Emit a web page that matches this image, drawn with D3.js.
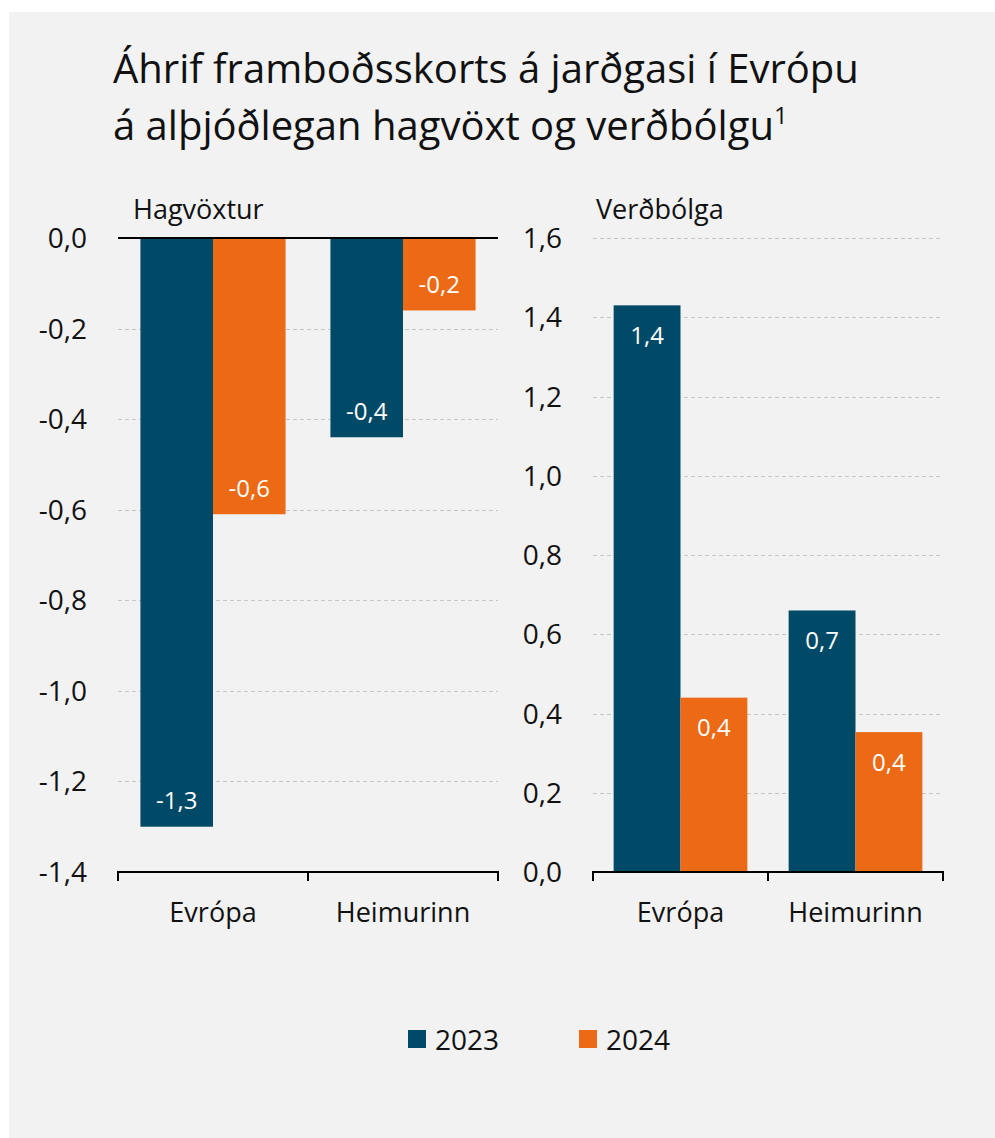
<!DOCTYPE html>
<html>
<head>
<meta charset="utf-8">
<script src="https://cdnjs.cloudflare.com/ajax/libs/d3/7.8.5/d3.min.js"></script>
<style>
  html, body { margin: 0; padding: 0; background: #ffffff; }
  svg { display: block; }
  text { font-family: "Open Sans", "Noto Sans", sans-serif; fill: #111111; }
</style>
</head>
<body>
<svg id="chart" width="995" height="1138"></svg>
<script>
// Data
const categories = ["Evrópa", "Heimurinn"];
const years = ["2023", "2024"];
const growth2023 = [-1.30, -0.44];
const growth2024 = [-0.61, -0.16];
const inflation2023 = [1.43, 0.66];
const inflation2024 = [0.44, 0.353];
const growthTicks = [0, -0.2, -0.4, -0.6, -0.8, -1.0, -1.2, -1.4];
const inflationTicks = [0, 0.2, 0.4, 0.6, 0.8, 1.0, 1.2, 1.4, 1.6];
const titleLines = ["Áhrif framboðsskorts á jarðgasi í Evrópu", "á alþjóðlegan hagvöxt og verðbólgu"];
const titleNote = "1";
const panelTitles = ["Hagvöxtur", "Verðbólga"];

const colors = { "2023": "#014a67", "2024": "#ec6a15" };

const isLocale = d3.formatLocale({ decimal: ",", thousands: ".", grouping: [3], currency: ["", " kr."], minus: "-" });
const fmt = isLocale.format(".1f");

const svg = d3.select("#chart");

// Panel background
svg.append("rect").attr("x", 9).attr("y", 12).attr("width", 986).attr("height", 1126).attr("fill", "#f2f2f2");

// Title
const title = svg.append("text").attr("x", 113).attr("y", 83).style("font-size", "40px");
title.append("tspan").attr("x", 113).attr("y", 83).text(titleLines[0]);
title.append("tspan").attr("x", 113).attr("y", 140).text(titleLines[1]);
title.append("tspan").attr("dy", -16).style("font-size", "24px").text(titleNote);

function panel(opts) {
  const { x0, x1, y0, y1, domain, ticks, s2023, s2024, labelRight, name, nameX } = opts;
  const g = svg.append("g");
  const x = d3.scaleBand().domain(categories).range([x0, x1]).paddingInner(0.236).paddingOuter(0.118);
  const xs = d3.scaleBand().domain(years).range([0, x.bandwidth()]);
  const y = d3.scaleLinear().domain(domain).range([y0, y1]);

  // dashed gridlines (skip the zero line and the bottom axis line)
  const bottomVal = domain[0];
  g.append("g").selectAll("line")
    .data(ticks.filter(t => t !== 0 && t !== bottomVal))
    .join("line")
    .attr("x1", x0).attr("x2", x1)
    .attr("y1", d => Math.round(y(d)) + 0.5).attr("y2", d => Math.round(y(d)) + 0.5)
    .attr("stroke", "#c6c6c6").attr("stroke-width", 1).attr("stroke-dasharray", "4,3");

  // y-axis labels
  const yAxis = d3.axisLeft(y).tickValues(ticks).tickFormat(fmt).tickSize(0).tickPadding(0);
  const ya = g.append("g").attr("transform", `translate(${labelRight},0)`).call(yAxis);
  ya.select(".domain").remove();
  ya.selectAll("text").style("font-size", "28px").attr("fill", "#111").attr("font-family", null).attr("dy", "0.34em");

  // bars
  const rows = categories.map((c, i) => ({ c, vals: [{ k: "2023", v: s2023[i] }, { k: "2024", v: s2024[i] }] }));
  const grp = g.append("g").selectAll("g").data(rows).join("g")
    .attr("transform", d => `translate(${x(d.c)},0)`);
  grp.selectAll("rect").data(d => d.vals).join("rect")
    .attr("x", d => xs(d.k)).attr("width", xs.bandwidth())
    .attr("y", d => Math.min(y(0), y(d.v))).attr("height", d => Math.abs(y(d.v) - y(0)))
    .attr("fill", d => colors[d.k]);
  grp.selectAll("text").data(d => d.vals).join("text")
    .attr("x", d => xs(d.k) + xs.bandwidth() / 2)
    .attr("y", d => y(d.v) + (d.v < 0 ? -26 : 30))
    .attr("dy", "0.35em")
    .attr("text-anchor", "middle")
    .style("font-size", "24px").style("fill", "#ffffff")
    .text(d => fmt(d.v));

  // category axis at the bottom
  const bottom = y(domain[0]);
  const xAxis = d3.axisBottom(x).tickSize(0).tickPadding(0);
  const xa = g.append("g").attr("transform", `translate(0,${bottom})`).call(xAxis);
  xa.select(".domain").remove();
  xa.selectAll("text").attr("y", 50).attr("dy", 0).style("font-size", "27px").attr("fill", "#111").attr("font-family", null);
  g.append("path")
    .attr("d", `M${x0},${bottom + 9}V${bottom}H${x1}V${bottom + 9}M${(x0 + x1) / 2},${bottom}V${bottom + 9}`)
    .attr("fill", "none").attr("stroke", "#000").attr("stroke-width", 2);

  // solid zero line when it is not the bottom axis
  if (domain[0] !== 0) {
    g.append("line").attr("x1", x0).attr("x2", x1).attr("y1", y(0)).attr("y2", y(0))
      .attr("stroke", "#000").attr("stroke-width", 2);
  }

  g.append("text").attr("x", nameX).attr("y", 219).style("font-size", "27px").text(name);
}

panel({ x0: 118, x1: 498, y0: 872, y1: 238, domain: [-1.4, 0], ticks: growthTicks,
        s2023: growth2023, s2024: growth2024, labelRight: 87, name: panelTitles[0], nameX: 133 });
panel({ x0: 593, x1: 943, y0: 872, y1: 238, domain: [0, 1.6], ticks: inflationTicks,
        s2023: inflation2023, s2024: inflation2024, labelRight: 562, name: panelTitles[1], nameX: 596 });

// Legend
const legend = svg.append("g");
const legendX = [408, 579];
years.forEach((k, i) => {
  legend.append("rect").attr("x", legendX[i]).attr("y", 1030).attr("width", 18).attr("height", 18).attr("fill", colors[k]);
  legend.append("text").attr("x", legendX[i] + 27).attr("y", 1050).style("font-size", "28px").text(k);
});
</script>
</body>
</html>
